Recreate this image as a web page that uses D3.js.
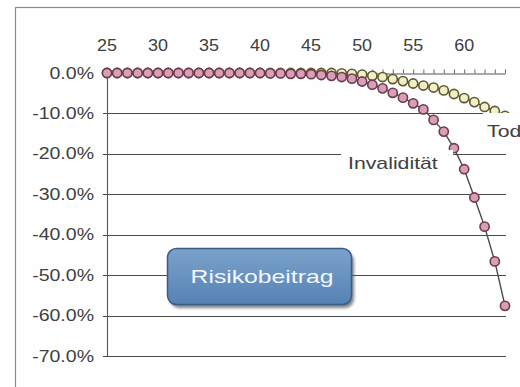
<!DOCTYPE html>
<html>
<head>
<meta charset="utf-8">
<script src="https://cdn.jsdelivr.net/npm/d3@7"></script>
<style>
  html, body { margin: 0; padding: 0; background: #fff; }
  svg { display: block; }
  text { font-family: "Liberation Sans", Arial, sans-serif; }
</style>
</head>
<body>
<svg id="chart" width="520" height="387"></svg>
<script>
// Age of the insured person (x axis, shown along the top)
const ages = [25, 26, 27, 28, 29, 30, 31, 32, 33, 34, 35, 36, 37, 38, 39,
              40, 41, 42, 43, 44, 45, 46, 47, 48, 49, 50, 51, 52, 53, 54,
              55, 56, 57, 58, 59, 60, 61, 62, 63, 64];

// Risk contribution in percent, disability cover
const invaliditaet = [0.0, 0.0, 0.0, 0.0, 0.0, 0.0, 0.0, 0.0, 0.0, 0.0,
                      0.0, 0.0, 0.0, 0.0, 0.0, 0.0, -0.1, -0.1, -0.2, -0.2,
                      -0.3, -0.5, -0.7, -1.0, -1.4, -2.1, -2.9, -3.8, -4.9, -6.1,
                      -7.5, -9.0, -11.6, -14.5, -18.6, -23.8, -30.8, -38.0, -46.6, -57.6];

// Risk contribution in percent, death cover
const tod = [0.0, 0.0, 0.0, 0.0, 0.0, 0.0, 0.0, 0.0, 0.0, 0.0,
             0.0, 0.0, 0.0, 0.0, 0.0, 0.0, 0.0, 0.0, 0.0, 0.0,
             0.0, 0.0, 0.0, -0.1, -0.2, -0.4, -0.7, -1.0, -1.5, -2.0,
             -2.6, -3.1, -3.6, -4.3, -5.2, -6.2, -7.2, -8.4, -9.4, -10.6];

const xTickLabels = [25, 30, 35, 40, 45, 50, 55, 60];
const yTickValues = [0, -10, -20, -30, -40, -50, -60, -70];

const svg = d3.select("#chart");

// stretch a text element horizontally, keeping its anchor
function widen(sel, k) {
  sel.each(function () {
    const w = this.getComputedTextLength();
    d3.select(this).attr("textLength", w * k).attr("lengthAdjust", "spacingAndGlyphs");
  });
}

// outer frame
svg.append("rect")
  .attr("x", 15.5).attr("y", 7.5).attr("width", 530).attr("height", 400)
  .attr("fill", "#fefefe").attr("stroke", "#8a8a8a").attr("stroke-width", 1.2);

const x = d3.scaleLinear().domain([25, 64]).range([107, 505]);
const y = d3.scaleLinear().domain([0, -70]).range([73, 356]);

// horizontal gridlines (with outside ticks)
svg.append("g")
  .selectAll("line")
  .data(yTickValues.filter(v => v !== 0))
  .join("line")
  .attr("x1", 103).attr("x2", 506)
  .attr("y1", d => Math.round(y(d)) + 0.5).attr("y2", d => Math.round(y(d)) + 0.5)
  .attr("stroke", "#4a4a4a").attr("stroke-width", 1.1);

// vertical axis line
svg.append("line")
  .attr("x1", 107.5).attr("x2", 107.5).attr("y1", 73).attr("y2", 357)
  .attr("stroke", "#555").attr("stroke-width", 1.1);

// y tick labels
const fmtPct = d => d3.format(".1f")(d).replace("\u2212", "-") + "%";
const yLabels = svg.append("g")
  .selectAll("text")
  .data(yTickValues)
  .join("text")
  .attr("x", 94)
  .attr("y", d => y(d) + 5.5)
  .attr("text-anchor", "end")
  .attr("font-size", 16)
  .attr("fill", "#404040")
  .text(fmtPct);
widen(yLabels, 1.22);

// top axis: baseline at 0 %, small tick for every year
const xAxis = d3.axisTop(x)
  .tickValues(ages)
  .tickSize(4)
  .tickSizeOuter(0)
  .tickFormat("");
const gx = svg.append("g").attr("transform", "translate(0,73.5)").call(xAxis);
gx.select(".domain").attr("stroke", "#555").attr("stroke-width", 1.1);
gx.selectAll(".tick line").attr("stroke", "#666");

// x tick labels above the axis
const xLabels = svg.append("g")
  .selectAll("text")
  .data(xTickLabels)
  .join("text")
  .attr("x", d => x(d))
  .attr("y", 51)
  .attr("text-anchor", "middle")
  .attr("font-size", 16)
  .attr("fill", "#404040")
  .text(d => d);
widen(xLabels, 1.12);

// series: line with round markers
const series = [
  { name: "Tod", values: tod, fill: "#f1efc6", stroke: "#5f5a32" },
  { name: "Invalidität", values: invaliditaet, fill: "#d99fb7", stroke: "#6d3a50" }
];

const line = d3.line().x((d, i) => x(ages[i])).y(d => y(d));

series.forEach(s => {
  const g = svg.append("g");
  g.append("path")
    .attr("d", line(s.values))
    .attr("fill", "none")
    .attr("stroke", "#4a4a4a")
    .attr("stroke-width", 1.4);
  g.selectAll("circle")
    .data(s.values)
    .join("circle")
    .attr("cx", (d, i) => x(ages[i]))
    .attr("cy", d => y(d))
    .attr("r", 4.6)
    .attr("fill", s.fill)
    .attr("stroke", s.stroke)
    .attr("stroke-width", 1.6);
});

// series labels on white background
function seriesLabel(txt, bx, by, bw, bh, tx, ty) {
  svg.append("rect").attr("x", bx).attr("y", by).attr("width", bw).attr("height", bh).attr("fill", "#fefefe");
  const t = svg.append("text")
    .attr("x", tx).attr("y", ty)
    .attr("font-size", 17)
    .attr("fill", "#404040")
    .text(txt);
  widen(t, 1.25);
}
seriesLabel("Tod", 483, 113, 40, 28, 487, 137);
seriesLabel("Invalidität", 341, 150, 112, 26, 348, 169);

// "Risikobeitrag" badge
const defs = svg.append("defs");
const grad = defs.append("linearGradient").attr("id", "btn").attr("x1", 0).attr("y1", 0).attr("x2", 0).attr("y2", 1);
grad.append("stop").attr("offset", "0%").attr("stop-color", "#7aa2cc");
grad.append("stop").attr("offset", "100%").attr("stop-color", "#5682b3");
const blur = defs.append("filter").attr("id", "shadow").attr("x", "-10%").attr("y", "-10%").attr("width", "130%").attr("height", "140%");
blur.append("feGaussianBlur").attr("stdDeviation", 1.5);

svg.append("rect")
  .attr("x", 170).attr("y", 252).attr("width", 184).attr("height", 56).attr("rx", 9)
  .attr("fill", "#4b4f58").attr("opacity", 0.7).attr("filter", "url(#shadow)");
svg.append("rect")
  .attr("x", 167.5).attr("y", 248.5).attr("width", 184).attr("height", 56).attr("rx", 9)
  .attr("fill", "url(#btn)").attr("stroke", "#3b5c85").attr("stroke-width", 1.5);
const bt = svg.append("text")
  .attr("x", 262).attr("y", 283)
  .attr("text-anchor", "middle")
  .attr("font-size", 19)
  .attr("fill", "#f4f7fb")
  .text("Risikobeitrag");
widen(bt, 1.3);
</script>
</body>
</html>
